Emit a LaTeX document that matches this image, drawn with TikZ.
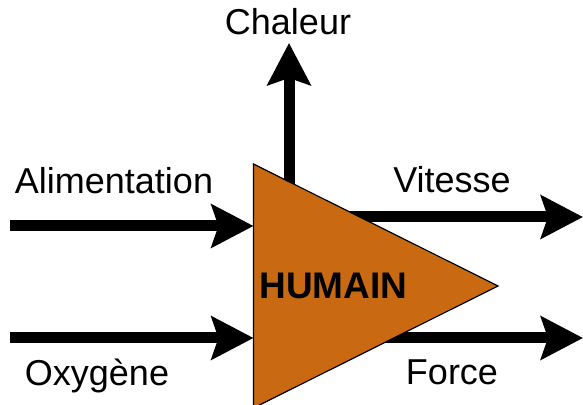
\documentclass[tikz,border=0pt]{standalone}
\usepackage{fontspec}
\setmainfont{Liberation Sans}
\usepackage{xcolor}
\usepackage{tikz}
\usetikzlibrary{positioning, arrows.meta}
\definecolor{HumanOrange}{HTML}{C96A12}

\begin{document}
\begin{tikzpicture}[
            x=0.5pt, y=-0.5pt,
            flow/.style={-{Stealth[length=21pt, width=21.5pt, inset=3.5pt]}, line width=5.5pt, black},
            flowlabel/.style={anchor=base, inner sep=0pt, font=\fontsize{18}{20}\selectfont},
            humanbox/.style={draw=black, line width=0.6pt, fill=HumanOrange}
        ]
            \useasboundingbox (0,0) rectangle (583,405);

            % triangle corners
            \coordinate (top) at (253.5,164);
            \coordinate (bottom) at (253.5,408);
            \coordinate (apex) at (498,286);

            % outputs (behind the triangle)
            \coordinate (heatstart) at (289,240);
            \coordinate (heatend) at (289,43);
            \coordinate (speedstart) at (300,217);
            \coordinate (speedend) at (583,217);
            \coordinate (forcestart) at (300,338);
            \coordinate (forceend) at (583,338);
            \draw[flow] (heatstart) -- (heatend);
            \draw[flow] (speedstart) -- (speedend);
            \draw[flow] (forcestart) -- (forceend);

            \draw[humanbox] (top) -- (apex) -- (bottom) -- cycle;
            \node[anchor=base west, inner sep=0pt, font=\fontsize{18.5}{20}\selectfont\bfseries] (human) at (259,299) {HUMAIN};

            % inputs
            \coordinate (foodstart) at (10,226);
            \coordinate (foodend) at (253.5,226);
            \coordinate (airstart) at (10,338);
            \coordinate (airend) at (253.5,338);
            \draw[flow] (foodstart) -- (foodend);
            \draw[flow] (airstart) -- (airend);

            \node[flowlabel] (heat) at (288,35) {Chaleur};
            \node[flowlabel] (food) at (114,194) {Alimentation};
            \node[flowlabel] (air) at (97,386) {Oxygène};
            \node[flowlabel] (speed) at (452,193) {Vitesse};
            \node[flowlabel] (force) at (452,385) {Force};

        \end{tikzpicture}
\end{document}
